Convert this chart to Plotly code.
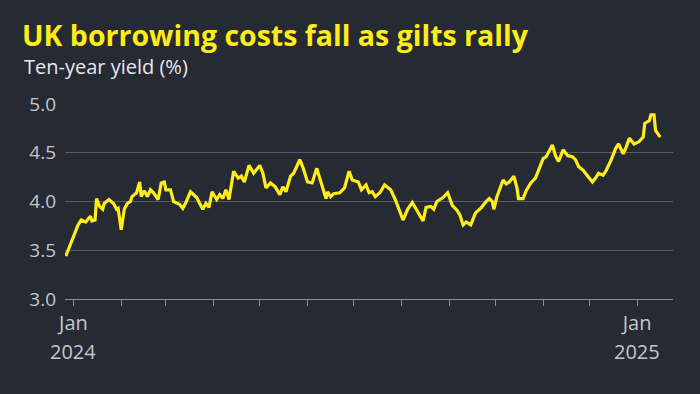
import plotly.graph_objects as go
import pandas as pd

# ---- data ----
dates = [
    "2023-12-27", "2024-01-01", "2024-01-04", "2024-01-06", "2024-01-09", "2024-01-12", "2024-01-13",
    "2024-01-15", "2024-01-16", "2024-01-18", "2024-01-20", "2024-01-21", "2024-01-24", "2024-01-27",
    "2024-01-29", "2024-01-30", "2024-02-01", "2024-02-03", "2024-02-05", "2024-02-07", "2024-02-08",
    "2024-02-11", "2024-02-13", "2024-02-14", "2024-02-16", "2024-02-18", "2024-02-20", "2024-02-22",
    "2024-02-25", "2024-02-27", "2024-02-29", "2024-03-01", "2024-03-04", "2024-03-06", "2024-03-10",
    "2024-03-12", "2024-03-14", "2024-03-17", "2024-03-21", "2024-03-23", "2024-03-25", "2024-03-27",
    "2024-03-29", "2024-03-31", "2024-04-03", "2024-04-05", "2024-04-07", "2024-04-09", "2024-04-11",
    "2024-04-14", "2024-04-17", "2024-04-19", "2024-04-21", "2024-04-24", "2024-04-27", "2024-05-01",
    "2024-05-03", "2024-05-05", "2024-05-08", "2024-05-11", "2024-05-14", "2024-05-16", "2024-05-18",
    "2024-05-21", "2024-05-23", "2024-05-27", "2024-05-29", "2024-06-01", "2024-06-04", "2024-06-07",
    "2024-06-10", "2024-06-13", "2024-06-14", "2024-06-16", "2024-06-18", "2024-06-22", "2024-06-25",
    "2024-06-28", "2024-06-30", "2024-07-04", "2024-07-06", "2024-07-08", "2024-07-09", "2024-07-11",
    "2024-07-13", "2024-07-15", "2024-07-18", "2024-07-21", "2024-07-23", "2024-07-25", "2024-07-28",
    "2024-08-02", "2024-08-05", "2024-08-08", "2024-08-11", "2024-08-15", "2024-08-17", "2024-08-20",
    "2024-08-22", "2024-08-24", "2024-08-28", "2024-08-31", "2024-09-03", "2024-09-06", "2024-09-08",
    "2024-09-10", "2024-09-12", "2024-09-15", "2024-09-18", "2024-09-22", "2024-09-25", "2024-09-27",
    "2024-09-29", "2024-09-30", "2024-10-02", "2024-10-06", "2024-10-08", "2024-10-10", "2024-10-13",
    "2024-10-15", "2024-10-16", "2024-10-19", "2024-10-21", "2024-10-24", "2024-10-27", "2024-11-01",
    "2024-11-03", "2024-11-07", "2024-11-09", "2024-11-11", "2024-11-14", "2024-11-17", "2024-11-20",
    "2024-11-22", "2024-11-24", "2024-11-27", "2024-11-30", "2024-12-03", "2024-12-05", "2024-12-07",
    "2024-12-10", "2024-12-12", "2024-12-15", "2024-12-18", "2024-12-20", "2024-12-23", "2024-12-25",
    "2024-12-27", "2024-12-30", "2025-01-02", "2025-01-05", "2025-01-06", "2025-01-09", "2025-01-10",
    "2025-01-12", "2025-01-13", "2025-01-16",
]
yields = [
    3.44, 3.64, 3.76, 3.81, 3.79, 3.85, 3.80,
    3.81, 4.03, 3.95, 3.92, 3.98, 4.02, 3.98,
    3.92, 3.93, 3.71, 3.92, 3.98, 4.00, 4.05,
    4.09, 4.20, 4.05, 4.11, 4.05, 4.12, 4.09,
    4.02, 4.19, 4.20, 4.12, 4.12, 4.00, 3.97,
    3.93, 3.99, 4.10, 4.04, 3.98, 3.92, 3.98,
    3.94, 4.10, 4.02, 4.07, 4.03, 4.12, 4.02,
    4.31, 4.24, 4.26, 4.20, 4.37, 4.29, 4.37,
    4.29, 4.14, 4.19, 4.15, 4.07, 4.15, 4.10,
    4.26, 4.29, 4.43, 4.35, 4.20, 4.19, 4.34,
    4.19, 4.03, 4.10, 4.05, 4.08, 4.09, 4.14,
    4.31, 4.22, 4.20, 4.12, 4.15, 4.17, 4.09,
    4.10, 4.05, 4.09, 4.17, 4.14, 4.12, 4.02,
    3.81, 3.92, 3.99, 3.91, 3.80, 3.94, 3.95,
    3.92, 4.00, 4.04, 4.09, 3.96, 3.91, 3.86,
    3.76, 3.79, 3.76, 3.88, 3.94, 4.00, 4.03,
    4.00, 3.92, 4.05, 4.22, 4.18, 4.20, 4.26,
    4.14, 4.03, 4.03, 4.11, 4.19, 4.24, 4.44,
    4.46, 4.58, 4.47, 4.41, 4.53, 4.47, 4.46,
    4.43, 4.36, 4.32, 4.26, 4.20, 4.24, 4.29,
    4.27, 4.32, 4.42, 4.54, 4.59, 4.49, 4.56,
    4.65, 4.59, 4.61, 4.66, 4.80, 4.83, 4.89,
    4.89, 4.73, 4.66,
]

month_ticks = list(pd.date_range("2024-01-01", "2025-01-01", freq="MS").strftime("%Y-%m-%d"))
month_text = ["Jan" if m.endswith("-01-01") else "" for m in month_ticks]
year_labels = ["2024", "2025"]
year_positions = ["2024-01-01", "2025-01-01"]
y_ticks = [3.0, 3.5, 4.0, 4.5, 5.0]

title_text = "UK borrowing costs fall as gilts rally"
subtitle_text = "Ten-year yield (%)"

# ---- style ----
BG = "#262A33"
YELLOW = "#FFEC1A"
TICK = "#C4C6CC"
GRID = "#575B63"
AXIS = "#8C8F96"
FONT = "Open Sans"

W, H = 700, 394
L, R, T, B = 65, 27, 104, 95
plot_h = H - T - B

def paper_y(py):
    return (H - B - py) / plot_h

fig = go.Figure()
fig.add_trace(go.Scatter(
    x=dates, y=yields, mode="lines",
    line=dict(color=YELLOW, width=3.2),
    hoverinfo="x+y", showlegend=False,
))

fig.update_layout(
    width=W, height=H,
    paper_bgcolor=BG, plot_bgcolor=BG,
    margin=dict(l=L, r=R, t=T, b=B),
    font=dict(family=FONT, color=TICK, size=18),
    title=dict(
        text=f"<b>{title_text}</b>",
        font=dict(family=FONT, size=28.5, color=YELLOW),
        x=22 / W, xref="container", xanchor="left",
        y=1 - 36 / H, yref="container", yanchor="middle",
    ),
    xaxis=dict(
        type="date",
        range=["2023-12-26 12:00", "2025-01-24 08:00"],
        tickvals=month_ticks, ticktext=month_text,
        ticks="outside", ticklen=6, tickcolor=AXIS, tickwidth=1,
        showline=True, linecolor=AXIS, linewidth=1.2,
        showgrid=False, zeroline=False,
        tickfont=dict(size=20, color=TICK),
    ),
    yaxis=dict(
        range=[3.0, 5.0],
        tickvals=y_ticks, ticktext=[f"{v:.1f}" for v in y_ticks],
        showgrid=True, gridcolor=GRID, gridwidth=1.2,
        zeroline=False, showline=False, ticks="",
        ticklabelstandoff=8,
        tickfont=dict(size=19, color=TICK),
    ),
)

fig.add_annotation(
    text=subtitle_text, xref="paper", yref="paper",
    x=(22 - L) / (W - L - R), y=paper_y(66),
    xanchor="left", yanchor="middle", showarrow=False,
    font=dict(family=FONT, size=20, color="#E6E7EA"),
)
for lab, pos in zip(year_labels, year_positions):
    fig.add_annotation(
        text=lab, xref="x", yref="paper", x=pos, y=paper_y(351),
        xanchor="center", yanchor="middle", showarrow=False,
        font=dict(family=FONT, size=20, color=TICK),
    )

fig.write_html(
    "out.html",
    config={"displayModeBar": False},
    post_script="document.body.style.margin='0';document.body.style.background='#262A33';",
)
